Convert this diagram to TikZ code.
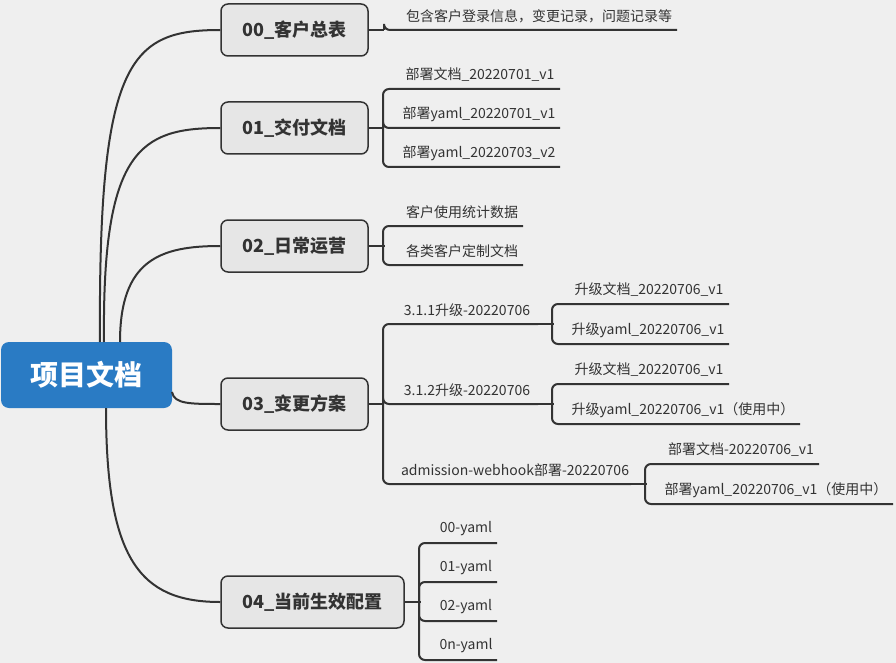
\documentclass[tikz,border=0pt]{standalone}
\usepackage{fontspec}
\setmainfont{Noto Sans CJK SC}
\definecolor{bg}{HTML}{EFEFEF}
\definecolor{ink}{HTML}{333333}
\definecolor{rootblue}{HTML}{2A7BC4}
\definecolor{boxfill}{HTML}{E6E6E6}
% leaf: bracket x, incoming y, leaf y, end x, text centre x, name, text
\newcommand\leaf[7]{%
  \coordinate (#6e) at (#4,#3);
  \draw[branch,rounded corners=6] (#1,#2) |- (#6e);
  \node[leaftext] (#6) at (#5,#3-14) {#7};
}
\begin{document}
\begin{tikzpicture}[x=1pt,y=-1pt,
  branch/.style={draw=ink,line width=2pt},
  topic/.style={draw=ink,fill=boxfill,line width=1.5pt,rounded corners=7,
    minimum height=52,font=\fontsize{18}{20}\selectfont\bfseries,text=ink,inner xsep=10},
  leaftext/.style={font=\fontsize{14}{16}\selectfont,text=ink,inner sep=0}]

  % Canvas
  \fill[bg] (0,0) rectangle (896,663);
  \useasboundingbox (0,0) rectangle (896,663);

  % Root
  \node[fill=rootblue,rounded corners=8,minimum width=171,minimum height=66,
    text=white,font=\fontsize{28}{30}\selectfont\bfseries] (root) at (86.5,375) {项目文档};

  % Topics
  \node[topic,minimum width=147] (t0) at (294.5,30) {00\_客户总表};
  \node[topic,minimum width=147] (t1) at (294.5,128) {01\_交付文档};
  \node[topic,minimum width=147] (t2) at (294.5,246) {02\_日常运营};
  \node[topic,minimum width=147] (t3) at (294.5,404) {03\_变更方案};
  \node[topic,minimum width=183] (t4) at (312.5,602) {04\_当前生效配置};

  \draw[branch] (100,342) .. controls (98,60) and (130,30) .. (t0.west);
  \draw[branch] (104,342) .. controls (102,150) and (140,128) .. (t1.west);
  \draw[branch] (120,342) .. controls (120,260) and (160,246) .. (t2.west);
  \draw[branch] (172,392) .. controls (174,404) and (190,404) .. (t3.west);
  \draw[branch] (106,408) .. controls (106,560) and (140,602) .. (t4.west);

  % 00
  \draw[branch] (t0.east) -- (384,30);
  \leaf{384}{30}{30}{677}{539}{l00}{包含客户登录信息，变更记录，问题记录等}

  % 01
  \draw[branch] (t1.east) -- (383,128);
  \leaf{383}{128}{89}{560}{480}{l10}{部署文档\_20220701\_v1}
  \leaf{383}{128}{128}{560}{479}{l11}{部署yaml\_20220701\_v1}
  \leaf{383}{128}{167}{560}{479}{l12}{部署yaml\_20220703\_v2}

  % 02
  \draw[branch] (t2.east) -- (385,246);
  \leaf{383}{246}{226}{523}{462}{l20}{客户使用统计数据}
  \leaf{383}{246}{265}{523}{462}{l21}{各类客户定制文档}

  % 03
  \draw[branch] (t3.east) -- (383,404);
  \leaf{383}{404}{324}{538}{467}{l30}{3.1.1升级-20220706}
  \leaf{383}{404}{404}{538}{467}{l31}{3.1.2升级-20220706}
  \leaf{383}{404}{484}{631}{515}{l32}{admission-webhook部署-20220706}
  \draw[branch] (l30e) -- (554,324);
  \leaf{552}{324}{304}{729}{649}{l300}{升级文档\_20220706\_v1}
  \leaf{552}{324}{344}{729}{648}{l301}{升级yaml\_20220706\_v1}
  \draw[branch] (l31e) -- (554,404);
  \leaf{552}{404}{384}{729}{649}{l310}{升级文档\_20220706\_v1}
  \leaf{552}{404}{424}{800}{683}{l311}{升级yaml\_20220706\_v1（使用中）}
  \draw[branch] (l32e) -- (647,484);
  \leaf{645}{484}{464}{819}{741}{l320}{部署文档-20220706\_v1}
  \leaf{645}{484}{504}{893}{776}{l321}{部署yaml\_20220706\_v1（使用中）}

  % 04
  \draw[branch] (t4.east) -- (421,602);
  \leaf{419}{602}{543}{497}{466}{l40}{00-yaml}
  \leaf{419}{602}{582}{497}{466}{l41}{01-yaml}
  \leaf{419}{602}{621}{497}{466}{l42}{02-yaml}
  \leaf{419}{602}{660}{497}{466}{l43}{0n-yaml}

\end{tikzpicture}
\end{document}
